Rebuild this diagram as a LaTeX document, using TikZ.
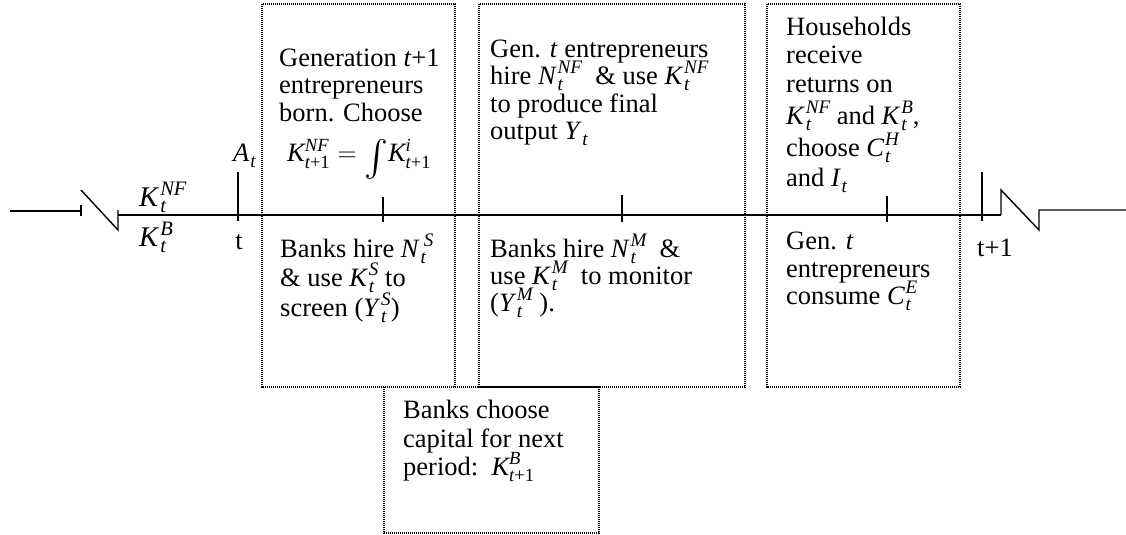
\RequirePackage{fix-cm}
\documentclass[tikz,border=0pt]{standalone}
\usepackage{amsmath}
\usepackage{graphicx}
\usepackage{fontspec}
\setmainfont{Liberation Serif}
\makeatletter
\newcommand\scr[1]{{\fontsize{\the\dimexpr 0.72\dimexpr\f@size pt\relax\relax}{0pt}\selectfont\itshape #1}}
\makeatother
\newsavebox\supbox
\newsavebox\subbox
\newcommand\vx[3]{\textit{#1}\kern0.03em\sbox\supbox{\scr{#2}}\sbox\subbox{\scr{#3}}%
  \raisebox{0.42em}{\rlap{\usebox\supbox}}\raisebox{-0.2em}{\rlap{\usebox\subbox}}%
  \hskip\ifdim\wd\supbox>\wd\subbox \wd\supbox\else\wd\subbox\fi\relax}
\newcommand\bigint{\raisebox{-0.28em}{\scalebox{1.45}{$\int$}}}
\tikzset{
  boxline/.style={line width=1.1bp, dash pattern=on 1.2bp off 0.8bp},
  tl/.style={line width=1.4bp},
  txt/.style={anchor=base west, inner sep=0pt, font=\fontsize{26.5bp}{28bp}\selectfont},
  bigtxt/.style={anchor=base west, inner sep=0pt, font=\fontsize{28.5bp}{30bp}\selectfont},
}
\begin{document}
\begin{tikzpicture}[x=1bp,y=-1bp]
\useasboundingbox (0,0) rectangle (1126,535);
% boxes
\draw[boxline] (262,4) rectangle (455,387);
\draw[boxline] (479,4) rectangle (745,387);
\draw[boxline] (767,4) rectangle (960,387);
\draw[boxline] (384,387) rectangle (599,533);
% timeline
\draw[tl] (10,211) -- (81,211);
\draw[tl] (81,205) -- (81,216);
\draw[tl] (81,190) -- (118,230) -- (118,210);
\draw[tl] (118,215) -- (1001,215);
\draw[tl] (1001,215) -- (1001,190) -- (1039,230) -- (1039,210) -- (1126,210);
% ticks
\draw[tl] (238,172) -- (238,221);
\draw[tl] (383,197) -- (383,222);
\draw[tl] (622,195) -- (622,222);
\draw[tl] (887,196) -- (887,222);
\draw[tl] (982,172) -- (982,221);
% left labels
\node[bigtxt] (knf) at (139,207) {\vx{K}{NF}{t}};
\node[bigtxt] (kb) at (139,247) {\vx{K}{B}{t}};
\node[txt] (at) at (233,162) {\vx{A}{}{t}};
\node[txt,anchor=base] (tlab) at (239,250) {t};
\node[txt] (t1lab) at (977,257) {t+1};
% box 1
\node[txt] (b1a) at (279,67) {Generation \textit{t}+1};
\node[txt] (b1b) at (279,94) {entrepreneurs};
\node[txt] (b1c) at (279,122) {born. Choose};
\node[txt] (b1d) at (287,162) {$\textit{K}^{\textit{NF}}_{\textit{t}\text{+1}} = \mathop{\bigint}\! \textit{K}^{\textit{i}}_{\textit{t}\text{+1}}$};
\node[txt] (b1e) at (280,258) {Banks hire \vx{N}{\,S}{t}};
\node[txt] (b1f) at (280,287) {\& use \vx{K}{S}{t} to};
\node[txt] (b1g) at (280,317) {screen (\vx{Y}{S}{t})};
% box 2
\node[txt] (b2a) at (490,58) {Gen. \textit{t} entrepreneurs};
\node[txt] (b2b) at (490,85) {hire \vx{N}{NF}{t}\ \ \& use \vx{K}{NF}{t}};
\node[txt] (b2c) at (490,113) {to produce final};
\node[txt] (b2d) at (490,140) {output \vx{Y}{}{t}};
\node[txt] (b2e) at (490,258) {Banks hire \vx{N}{M}{t}\ \ \&};
\node[txt] (b2f) at (490,285) {use \vx{K}{M}{t}\ \ to monitor};
\node[txt] (b2g) at (490,312) {(\vx{Y}{M}{t}\ ).};
% box 3
\node[txt] (b3a) at (786,36) {Households};
\node[txt] (b3b) at (786,64) {receive};
\node[txt] (b3c) at (786,93) {returns on};
\node[txt] (b3d) at (786,125) {\vx{K}{NF}{t} and \vx{K}{B}{t},};
\node[txt] (b3e) at (786,157) {choose \vx{C}{H}{t}};
\node[txt] (b3f) at (786,187) {and \vx{I}{}{t}};
\node[txt] (b3g) at (786,250) {Gen. \textit{t}};
\node[txt] (b3h) at (786,278) {entrepreneurs};
\node[txt] (b3i) at (786,305) {consume \vx{C}{E}{t}};
% box 4
\node[txt] (b4a) at (403,418) {Banks choose};
\node[txt] (b4b) at (403,447) {capital for next};
\node[txt] (b4c) at (403,475) {period:\ \ $\textit{K}^{\textit{B}}_{\textit{t}\text{+1}}$};
\end{tikzpicture}
\end{document}
